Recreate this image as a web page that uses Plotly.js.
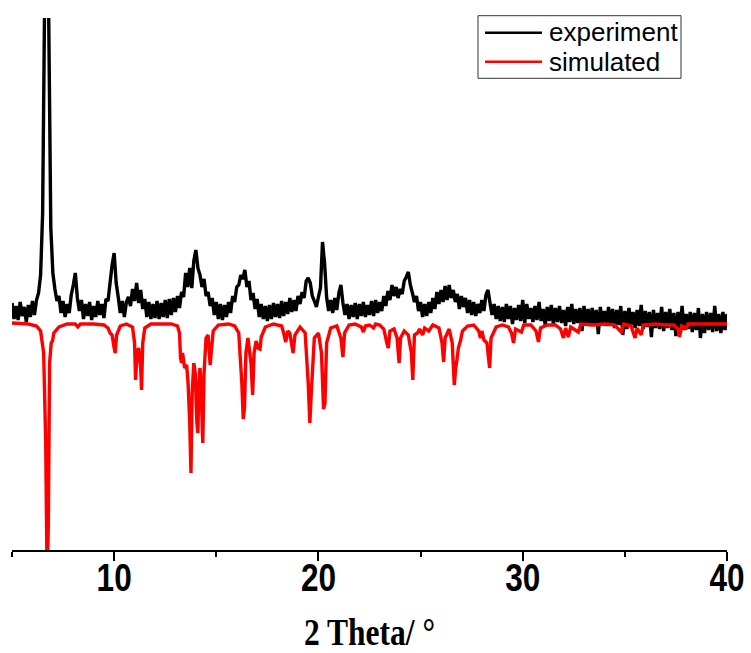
<!DOCTYPE html>
<html>
<head>
<meta charset="utf-8">
<script src="https://cdn.plot.ly/plotly-3.0.1.min.js"></script>
<style>
html, body { margin: 0; padding: 0; background: #fff; }
#chart { width: 751px; height: 653px; }
</style>
</head>
<body>
<div id="chart"></div>
<script>
// Experiment pattern: start angle, step, and intensities (arbitrary units)
const expStart = 5.0;
const expStep = 0.1;
const expIntensity = [
  20, 4, 17, 3, 21, 7, 16, 1, 18, 6,
  22, 8, 23, 30, 48, 110, 330, 520, 300, 95,
  50, 34, 22, 27, 10, 22, 6, 19, 10, 28,
  38, 50, 25, 12, 23, 4, 19, 7, 21, 3,
  17, 6, 22, 8, 19, 5, 24, 22, 40, 58,
  70, 40, 26, 10, 22, 6, 21, 26, 17, 34,
  22, 40, 20, 33, 14, 24, 6, 21, 4, 19,
  5, 22, 4, 20, 6, 23, 5, 24, 8, 25,
  11, 27, 15, 31, 26, 50, 36, 55, 35, 62,
  73, 55, 48, 36, 44, 27, 31, 17, 25, 8,
  21, 4, 19, 3, 18, 6, 21, 10, 27, 21,
  36, 38, 48, 44, 53, 36, 42, 23, 30, 14,
  24, 6, 19, 4, 17, 2, 18, 4, 20, 6,
  19, 5, 22, 7, 21, 9, 25, 11, 23, 12,
  27, 19, 31, 25, 42, 45, 40, 27, 22, 16,
  26, 35, 81, 60, 26, 12, 23, 10, 25, 13,
  30, 38, 20, 8, 19, 4, 18, 6, 20, 4,
  19, 7, 21, 6, 18, 8, 22, 7, 23, 10,
  21, 12, 27, 17, 32, 23, 38, 27, 36, 25,
  34, 29, 42, 46, 51, 38, 30, 21, 27, 12,
  21, 6, 19, 7, 21, 10, 25, 14, 31, 19,
  33, 21, 37, 23, 38, 25, 33, 21, 29, 14,
  27, 16, 25, 10, 23, 8, 21, 7, 19, 10,
  23, 12, 28, 33, 20, 8, 19, 4, 17, 2,
  16, 1, 19, 4, 17, -1, 15, 3, 18, 2,
  23, 0, 19, 4, 15, 1, 17, 3, 21, 2,
  14, -2, 16, 2, 18, -1, 15, 1, 17, 0,
  13, -3, 16, 1, 19, -1, 14, 0, 15, -8,
  17, 0, 14, -3, 15, -1, 13, -11, 16, -2,
  12, -3, 16, -1, 14, -5, 13, -2, 17, -12,
  12, -6, 15, -2, 11, -5, 13, -3, 18, -6,
  12, -4, 11, -14, 13, -5, 10, -6, 16, -8,
  11, -5, 14, -7, 10, -13, 11, -8, 17, -7,
  9, -6, 11, -9, 10, -7, 15, -15, 9, -10,
  11, -7, 10, -9, 17, -8, 9, -10, 11, -7,
  9
];

// Simulated pattern (plotted inverted, below the baseline)
const simTheta = [
  5.0, 5.8, 6.2, 6.4, 6.55, 6.65, 6.72, 6.78, 6.84, 6.92, 6.98, 7.05, 7.3, 7.7,
  8.1, 8.22, 8.35, 9.0, 9.5, 9.7, 9.8, 9.9, 10.0, 10.05, 10.12, 10.3, 10.6,
  10.9, 11.0, 11.05, 11.12, 11.2, 11.3, 11.34, 11.4, 11.5, 11.8, 12.8,
  13.1, 13.2, 13.25, 13.3, 13.35, 13.45, 13.55, 13.62, 13.7, 13.76, 13.82, 13.9,
  13.97, 14.05, 14.1, 14.15, 14.2, 14.25, 14.34, 14.4, 14.5, 14.6, 14.7, 14.75,
  14.85, 15.1, 15.6, 15.9, 16.1, 16.25, 16.32, 16.38, 16.45, 16.55, 16.7, 16.78,
  16.85, 16.95, 17.05, 17.14, 17.2, 17.4, 17.8, 18.2, 18.3, 18.4, 18.5, 18.6,
  18.76, 18.85, 19.1, 19.35, 19.5, 19.58, 19.65, 19.8, 20.0, 20.15, 20.25, 20.32,
  20.4, 20.6, 20.9, 21.1, 21.2, 21.28, 21.5, 21.8, 22.1, 22.2, 22.3, 22.5, 22.7,
  22.8, 23.0, 23.2, 23.35, 23.42, 23.5, 23.7, 23.85, 23.95, 24.02, 24.2, 24.4,
  24.55, 24.62, 24.7, 24.85, 24.95, 25.1, 25.2, 25.4, 25.6, 25.9, 26.05, 26.13,
  26.2, 26.4, 26.55, 26.65, 26.72, 26.78, 26.85, 26.95, 27.05, 27.3, 27.6, 27.85,
  27.93, 28.0, 28.1, 28.25, 28.38, 28.45, 28.7, 29.0, 29.3, 29.45, 29.55, 29.65,
  29.94, 30.05, 30.4, 30.65, 30.77, 30.87, 31.2, 31.6, 31.85, 31.99, 32.1, 32.23,
  32.35, 32.72, 32.85, 33.5, 34.0, 34.5, 34.82, 34.95, 35.3, 35.5, 35.6, 35.8,
  35.9, 36.5, 37.0, 37.4, 37.6, 37.68, 37.78, 38.0, 38.1, 38.6, 39.2, 40.0
];
const simIntensity = [
  0, -1, -3, -8, -30, -120, -260, -200, -40, -20, -18, -10, -4, -1,
  -1, -4, -1, -1, -2, -5, -10, -12, -25, -30, -12, -3, -1,
  -4, -20, -57, -30, -25, -45, -67, -20, -5, -1, -1,
  -3, -10, -35, -40, -30, -45, -42, -60, -100, -150, -70, -40,
  -50, -100, -110, -60, -45, -60, -120, -50, -15, -12, -42, -30,
  -8, -2, -1, -3, -10, -60, -96, -85, -30, -15, -40, -72,
  -30, -18, -25, -26, -14, -4, -1, -3, -10, -19, -8, -10,
  -30, -12, -4, -10, -60, -100, -70, -15, -10, -30, -86, -80,
  -20, -5, -3, -15, -34, -10, -2, -1, -4, -9, -3, -2, -5,
  -1, -2, -6, -20, -25, -8, -6, -15, -40, -15, -8, -12,
  -30, -57, -12, -10, -6, -12, -5, -8, -2, -5, -20, -39,
  -15, -6, -20, -62, -45, -37, -25, -18, -8, -3, -2, -8,
  -15, -8, -17, -20, -45, -15, -4, -2, -4, -10, -20, -6,
  -9, -2, -2, -8, -19, -5, -2, -2, -6, -15, -5, -14,
  -4, -9, -1, -2, -1, -2, -9, -1, -3, -15, -5, -12,
  -2, -1, -2, -2, -6, -14, -3, -5, -1, -1, -1, -1
];

const xTickVals = [10, 20, 30, 40];
const xTickText = ['10', '20', '30', '40'];
const legendNames = ['experiment', 'simulated'];

const expTheta = expIntensity.map((_, i) => +(expStart + i * expStep).toFixed(2));

// plot-area geometry helpers (paper coords from pixel positions)
const W = 751, H = 653, mL = 12, mR = 24, mT = 18, mB = 103;
const pw = W - mL - mR, ph = H - mT - mB;
const px = (x) => (x - mL) / pw;
const py = (y) => (H - mB - y) / ph;

const traces = [
  { x: expTheta, y: expIntensity, type: 'scatter', mode: 'lines', name: legendNames[0],
    line: { color: '#000000', width: 3.4, simplify: false }, showlegend: false, hoverinfo: 'skip' },
  { x: simTheta, y: simIntensity, type: 'scatter', mode: 'lines', name: legendNames[1],
    line: { color: '#ff0000', width: 3.4, simplify: false }, showlegend: false, hoverinfo: 'skip' }
];

const layout = {
  width: W, height: H,
  margin: { l: mL, r: mR, t: mT, b: mB },
  paper_bgcolor: '#ffffff', plot_bgcolor: '#ffffff',
  showlegend: false,
  xaxis: {
    range: [5, 40], showgrid: false, zeroline: false,
    showline: true, linecolor: '#000', linewidth: 2,
    ticks: 'outside', ticklen: 9, tickwidth: 2, tickcolor: '#000',
    tickvals: xTickVals, ticktext: xTickText,
    ticklabelstandoff: -16,
    tickfont: { family: 'Liberation Sans, Arial, sans-serif', size: 38, color: '#000', weight: 'bold' },
    minor: { tick0: 5, dtick: 10, ticks: 'outside', ticklen: 5, tickwidth: 2, tickcolor: '#000', showgrid: false },
    title: { text: '2 Theta/ °', standoff: 22,
      font: { family: 'Liberation Serif, Times New Roman, serif', size: 37, color: '#000', weight: 'bold' } }
  },
  yaxis: { range: [-227, 305], visible: false, showgrid: false, zeroline: false },
  shapes: [
    { type: 'rect', xref: 'paper', yref: 'paper', x0: px(478), x1: px(681), y0: py(78.3), y1: py(15.7),
      line: { color: '#333', width: 1 }, fillcolor: 'rgba(0,0,0,0)' },
    { type: 'line', xref: 'paper', yref: 'paper', x0: px(485), x1: px(542), y0: py(32.7), y1: py(32.7),
      line: { color: '#000', width: 2.6 } },
    { type: 'line', xref: 'paper', yref: 'paper', x0: px(485), x1: px(542), y0: py(61.7), y1: py(61.7),
      line: { color: '#ff0000', width: 2.6 } }
  ],
  annotations: [
    { xref: 'paper', yref: 'paper', x: px(547), y: py(32), xanchor: 'left', yanchor: 'middle',
      text: legendNames[0], showarrow: false,
      font: { family: 'Liberation Sans, Arial, sans-serif', size: 26, color: '#000' } },
    { xref: 'paper', yref: 'paper', x: px(547), y: py(62), xanchor: 'left', yanchor: 'middle',
      text: legendNames[1], showarrow: false,
      font: { family: 'Liberation Sans, Arial, sans-serif', size: 26, color: '#000' } }
  ]
};

// The reference lettering on the axis is horizontally condensed; squeeze glyphs to match.
function squeeze(selector, fn) {
  document.querySelectorAll(selector).forEach((t) => {
    const w = t.getComputedTextLength();
    t.setAttribute('textLength', fn(w).toFixed(1));
    t.setAttribute('lengthAdjust', 'spacingAndGlyphs');
  });
}

Plotly.newPlot('chart', traces, layout, { staticPlot: true, displayModeBar: false }).then(() => {
  squeeze('.xtick text', (w) => w * 0.83);
  squeeze('text.xtitle', () => 131);
});
</script>
</body>
</html>
